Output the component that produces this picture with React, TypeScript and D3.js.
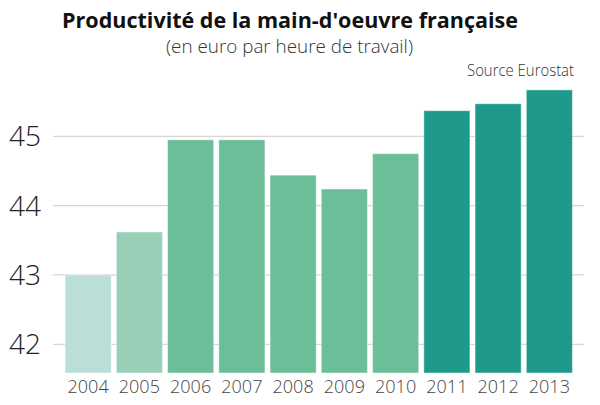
import * as d3 from 'd3';
import React from 'react';

const years = ['2004', '2005', '2006', '2007', '2008', '2009', '2010', '2011', '2012', '2013'];
const productivity = [43.0, 43.62, 44.95, 44.95, 44.44, 44.24, 44.75, 45.37, 45.47, 45.67];
const yTicks = [42, 43, 44, 45];

const title = "Productivité de la main-d'oeuvre française";
const subtitle = '(en euro par heure de travail)';
const source = 'Source Eurostat';

// fill per bar, light for the oldest years, dark for the last three
const barColors = [
  '#badfd8',
  '#9acfb7',
  '#6cbe99',
  '#6cbe99',
  '#6cbe99',
  '#6cbe99',
  '#6cbe99',
  '#1f9a8a',
  '#1f9a8a',
  '#1f9a8a',
];

const width = 600;
const height = 405;
const font = "'Open Sans', 'Noto Sans', sans-serif";

const App = () => {
  const x = d3.scaleBand().domain(years).range([62.5, 575]).paddingInner(0.1).paddingOuter(0.05);
  const y = d3.scaleLinear().domain([41.586, 46]).range([373, 67]);

  return (
    <svg
      width={width}
      height={height}
      style={{ position: 'absolute', left: 0, top: 0, background: '#fff' }}
    >
      <text
        x={290}
        y={28}
        textAnchor="middle"
        fontFamily={font}
        fontWeight={700}
        fontSize={22}
        fill="#111"
        textLength={456}
        lengthAdjust="spacingAndGlyphs"
      >
        {title}
      </text>
      <text
        x={289.5}
        y={53}
        textAnchor="middle"
        fontFamily={font}
        fontWeight={300}
        fontSize={18}
        fill="#333"
        textLength={247}
        lengthAdjust="spacingAndGlyphs"
      >
        {subtitle}
      </text>
      <text
        x={574}
        y={76}
        textAnchor="end"
        fontFamily={font}
        fontWeight={300}
        fontSize={17}
        fill="#333"
        textLength={107}
        lengthAdjust="spacingAndGlyphs"
      >
        {source}
      </text>

      <g>
        {yTicks.map((t) => (
          <g key={t}>
            <line x1={53} x2={584} y1={y(t)} y2={y(t)} stroke="#d6d6d6" strokeWidth={1.3} />
            <text
              x={41}
              y={y(t)}
              dy="0.36em"
              textAnchor="end"
              fontFamily={font}
              fontWeight={300}
              fontSize={28}
              fill="#222"
            >
              {t}
            </text>
          </g>
        ))}
      </g>

      <g>
        {years.map((yr, i) => (
          <rect
            key={yr}
            x={x(yr)}
            y={y(productivity[i])}
            width={x.bandwidth()}
            height={y.range()[0] - y(productivity[i])}
            fill={barColors[i]}
            stroke="rgba(255,255,255,0.45)"
            strokeWidth={1}
          />
        ))}
      </g>

      <g>
        {years.map((yr) => (
          <text
            key={yr}
            x={(x(yr) as number) + x.bandwidth() / 2}
            y={393}
            textAnchor="middle"
            fontFamily={font}
            fontWeight={300}
            fontSize={18}
            fill="#444"
          >
            {yr}
          </text>
        ))}
      </g>
    </svg>
  );
};

export default App;
